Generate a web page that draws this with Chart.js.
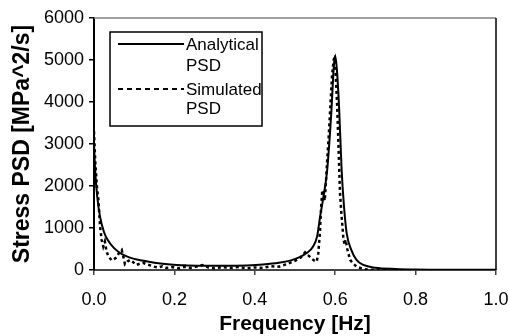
<!DOCTYPE html>
<html><head><meta charset="utf-8">
<script src="https://cdn.jsdelivr.net/npm/chart.js@4/dist/chart.umd.min.js"></script>
<style>html,body{margin:0;padding:0;background:#fff;}#wrap{width:509px;height:336px;position:relative}</style>
</head><body><div id="wrap"><canvas id="c" width="509" height="336"></canvas></div>
<script>
const xTickLabels = ['0.0','0.2','0.4','0.6','0.8','1.0'];
const yTickLabels = ['0','1000','2000','3000','4000','5000','6000'];
const seriesNames = ['Analytical PSD','Simulated PSD'];

const analyticalFreq = [0.000,0.003,0.008,0.015,0.025,0.035,0.050,0.065,0.080,0.100,0.120,0.150,0.190,0.230,0.280,0.330,0.380,0.420,0.460,0.490,0.510,0.530,0.545,0.555,0.5625,0.570,0.580,0.590,0.597,0.600,0.604,0.610,0.616,0.622,0.6285,0.640,0.653,0.670,0.700,0.750,0.800,0.900,1.000];
const analyticalPsd  = [3000,2350,1750,1270,900,700,520,405,330,265,225,175,130,110,100,100,110,130,170,230,300,410,560,800,1270,1700,2380,3700,4900,5100,4800,3800,2380,1500,880,480,240,120,55,25,12,5,3];

const simulatedFreq = [0.000,0.003,0.007,0.011,0.015,0.019,0.023,0.027,0.031,0.036,0.044,0.050,0.056,0.063,0.069,0.073,0.077,0.083,0.090,0.097,0.105,0.114,0.122,0.130,0.140,0.150,0.160,0.170,0.180,0.195,0.210,0.225,0.240,0.255,0.270,0.285,0.300,0.320,0.340,0.360,0.380,0.400,0.420,0.440,0.460,0.480,0.500,0.515,0.525,0.533,0.541,0.548,0.554,0.558,0.562,0.565,0.568,0.571,0.574,0.577,0.580,0.584,0.588,0.592,0.596,0.599,0.602,0.605,0.608,0.612,0.616,0.620,0.623,0.626,0.630,0.637,0.645,0.653,0.665,0.678,0.700,0.730];
const simulatedPsd  = [3300,2600,2000,1667,1050,714,560,680,450,320,230,260,300,420,476,320,140,200,240,190,120,150,170,140,110,80,60,90,50,70,40,75,50,80,120,60,40,70,50,70,40,60,50,90,80,140,220,300,420,350,280,220,200,400,900,1500,1900,1800,1650,2100,2600,3200,3900,4600,5000,5050,4500,3900,3000,1825,1270,800,600,720,500,240,150,80,40,10,5,0];

const toPts = (xs, ys) => xs.map((x, i) => ({x: x, y: ys[i]}));
const FONT = "'Liberation Sans', Arial, sans-serif";

const framePlugin = {
  id: 'frame',
  afterDraw(chart) {
    const {ctx, chartArea: a} = chart;
    ctx.save();
    ctx.strokeStyle = '#808080';
    ctx.lineWidth = 1.5;
    ctx.beginPath(); ctx.moveTo(a.left, a.top); ctx.lineTo(a.right, a.top); ctx.stroke();
    ctx.strokeStyle = '#000';
    ctx.beginPath(); ctx.moveTo(a.right, a.top); ctx.lineTo(a.right, a.bottom); ctx.stroke();
    ctx.restore();
  }
};

const legendPlugin = {
  id: 'customLegend',
  afterDraw(chart) {
    const ctx = chart.ctx;
    ctx.save();
    ctx.fillStyle = '#fff';
    ctx.fillRect(110, 32, 152, 94);
    ctx.strokeStyle = '#000';
    ctx.lineWidth = 1.5;
    ctx.strokeRect(110, 32, 152, 94);
    ctx.lineWidth = 2;
    ctx.beginPath(); ctx.moveTo(118, 44); ctx.lineTo(184, 44); ctx.stroke();
    ctx.setLineDash([5, 4]);
    ctx.beginPath(); ctx.moveTo(118, 89); ctx.lineTo(184, 89); ctx.stroke();
    ctx.setLineDash([]);
    ctx.fillStyle = '#000';
    ctx.font = "17px " + FONT;
    ctx.textBaseline = 'middle';
    ctx.textAlign = 'left';
    const n0 = seriesNames[0].split(' '), n1 = seriesNames[1].split(' ');
    ctx.fillText(n0[0], 186, 45);
    ctx.fillText(n0[1], 186, 66);
    ctx.fillText(n1[0], 186, 90);
    ctx.fillText(n1[1], 186, 109);
    ctx.restore();
  }
};

new Chart(document.getElementById('c'), {
  type: 'line',
  data: {
    datasets: [
      {label: seriesNames[0], data: toPts(analyticalFreq, analyticalPsd), borderColor: '#000', borderWidth: 2, pointRadius: 0, cubicInterpolationMode: 'monotone', fill: false},
      {label: seriesNames[1], data: toPts(simulatedFreq, simulatedPsd), borderColor: '#000', borderWidth: 2.5, borderDash: [3, 3], pointRadius: 0, tension: 0, fill: false}
    ]
  },
  options: {
    responsive: false,
    animation: false,
    layout: {padding: {top: 18, right: 13, left: 0, bottom: 0}},
    scales: {
      x: {
        type: 'linear', min: 0, max: 1,
        ticks: {stepSize: 0.2, color: '#000', font: {family: FONT, size: 18}, padding: 14, maxRotation: 0,
                callback: (v, i) => xTickLabels[i]},
        grid: {drawOnChartArea: false, drawTicks: true, tickLength: 5, color: '#444', lineWidth: 1.5},
        border: {color: '#444', width: 2},
        title: {display: true, text: 'Frequency [Hz]', color: '#000', font: {family: FONT, size: 21, weight: 'bold', lineHeight: 1}, padding: {top: 0, bottom: 1}},
        afterFit(s) { s.height = 66; s.paddingLeft = 0; s.paddingRight = 0; }
      },
      y: {
        min: 0, max: 6000,
        ticks: {stepSize: 1000, color: '#000', font: {family: FONT, size: 18}, padding: 5,
                callback: (v, i) => yTickLabels[i]},
        grid: {drawOnChartArea: false, drawTicks: true, tickLength: 5, color: '#000', lineWidth: 1.5},
        border: {color: '#000', width: 2},
        title: {display: true, text: 'Stress PSD [MPa^2/s]', color: '#000', font: {family: FONT, size: 23, weight: 'bold', lineHeight: 1}, padding: {top: 11, bottom: 0}},
        afterFit(s) { s.width = 94; s.paddingTop = 0; s.paddingBottom = 0; }
      }
    },
    plugins: {legend: {display: false}, tooltip: {enabled: false}}
  },
  plugins: [framePlugin, legendPlugin]
});
</script>
</body></html>
